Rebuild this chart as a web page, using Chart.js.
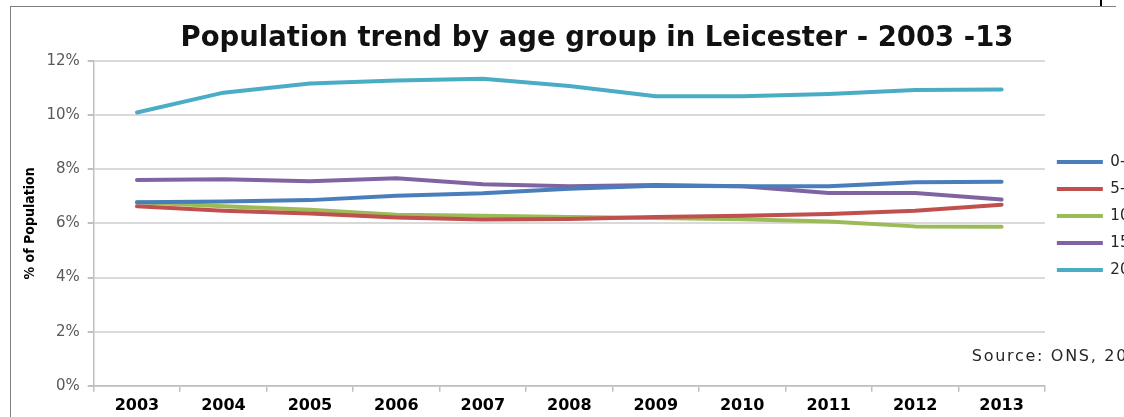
<!DOCTYPE html>
<html>
<head>
<meta charset="utf-8">
<script src="https://cdn.jsdelivr.net/npm/chart.js@4/dist/chart.umd.min.js"></script>
<style>
  html, body { margin: 0; padding: 0; background: #fff; overflow: hidden; width: 1124px; height: 417px; }
  #frame { position: absolute; left: 10px; top: 6px; width: 1105px; height: 420px; border-left: 1px solid #7f7f7f; border-top: 1px solid #7f7f7f; }
  #mark { position: absolute; left: 1100px; top: 0; width: 2px; height: 6px; background: #000; }
  #wrap { position: absolute; left: 11px; top: 7px; width: 1172px; height: 414px; }
</style>
</head>
<body>
<div id="frame"></div>
<div id="mark"></div>
<div id="wrap"><canvas id="myChart"></canvas></div>
<script>
var years = ['2003', '2004', '2005', '2006', '2007', '2008', '2009', '2010', '2011', '2012', '2013'];
var ageGroups = ['0-4', '5-9', '10-14', '15-19', '20-24'];
var age0to4 = [6.78, 6.81, 6.86, 7.02, 7.11, 7.28, 7.39, 7.37, 7.37, 7.52, 7.54];
var age5to9 = [6.63, 6.47, 6.37, 6.22, 6.14, 6.16, 6.24, 6.28, 6.35, 6.47, 6.69];
var age10to14 = [6.78, 6.63, 6.50, 6.32, 6.28, 6.24, 6.20, 6.15, 6.07, 5.89, 5.88];
var age15to19 = [7.60, 7.63, 7.56, 7.67, 7.45, 7.37, 7.42, 7.37, 7.12, 7.12, 6.88];
var age20to24 = [10.10, 10.83, 11.17, 11.28, 11.34, 11.08, 10.70, 10.70, 10.78, 10.93, 10.95];
var yTicks = [0, 2, 4, 6, 8, 10, 12];
var sourceNote = 'Source: ONS, 2014';

var seriesValues = [age0to4, age5to9, age10to14, age15to19, age20to24];
var colours = ['#4a7ebb', '#c0504d', '#9bbb59', '#8064a2', '#4bacc6'];

var datasets = ageGroups.map(function (name, i) {
    return {
        label: name,
        data: seriesValues[i],
        borderColor: colours[i],
        backgroundColor: colours[i],
        borderWidth: 4,
        borderCapStyle: 'round',
        borderJoinStyle: 'round',
        pointRadius: 0,
        pointHoverRadius: 0,
        pointStyle: 'line',
        tension: 0,
        fill: false
    };
});

// the source note sits inside the plot, bottom right
var sourcePlugin = {
    id: 'sourceNote',
    afterDraw: function (chart) {
        var c = chart.ctx;
        c.save();
        c.font = '16px "DejaVu Sans", sans-serif';
        c.letterSpacing = '1.7px';
        c.fillStyle = '#262626';
        c.textBaseline = 'middle';
        c.textAlign = 'left';
        c.fillText(sourceNote, chart.chartArea.right - 73, chart.chartArea.bottom - 29);
        c.restore();
    }
};

var ctx = document.getElementById('myChart').getContext('2d');
var myChart = new Chart(ctx, {
    type: 'line',
    data: {
        labels: years,
        datasets: datasets
    },
    plugins: [sourcePlugin],
    options: {
        responsive: true,
        maintainAspectRatio: false,
        animation: false,
        layout: {
            padding: { left: 0, right: 0, top: 0, bottom: 2 }
        },
        plugins: {
            title: {
                display: true,
                text: 'Population trend by age group in Leicester - 2003 -13',
                color: '#111',
                font: { family: '"DejaVu Sans", sans-serif', size: 27.5, weight: 'bold' },
                padding: { top: 15, bottom: 6 }
            },
            legend: {
                position: 'right',
                fullSize: true,
                title: {
                    display: true,
                    text: '',
                    font: { size: 1 },
                    padding: { top: 0, bottom: 5 }
                },
                labels: {
                    usePointStyle: true,
                    pointStyleWidth: 46,
                    boxHeight: 4,
                    padding: 12,
                    color: '#262626',
                    font: { family: '"DejaVu Sans", sans-serif', size: 15 },
                    generateLabels: function (chart) {
                        var items = Chart.defaults.plugins.legend.labels.generateLabels(chart);
                        items.forEach(function (it) { it.text = it.text + '    '; });
                        return items;
                    }
                }
            },
            tooltip: { enabled: false }
        },
        scales: {
            x: {
                offset: true,
                grid: {
                    offset: true,
                    drawOnChartArea: false,
                    drawTicks: true,
                    tickLength: 6,
                    tickColor: '#bfbfbf',
                    lineWidth: 1.5
                },
                border: { color: '#bfbfbf', width: 1.5 },
                ticks: {
                    color: '#000',
                    padding: 4,
                    maxRotation: 0,
                    font: { family: '"DejaVu Sans", sans-serif', size: 16, weight: 'bold' }
                }
            },
            y: {
                min: 0,
                max: 12,
                afterBuildTicks: function (axis) {
                    axis.ticks = yTicks.map(function (v) { return { value: v }; });
                },
                grid: {
                    color: '#d9d9d9',
                    lineWidth: 2,
                    tickLength: 6,
                    tickColor: '#bfbfbf'
                },
                border: { color: '#bfbfbf', width: 1.5 },
                ticks: {
                    color: '#595959',
                    padding: 8,
                    font: { family: '"DejaVu Sans", sans-serif', size: 15 },
                    callback: function (v) { return v + '%'; }
                },
                title: {
                    display: true,
                    text: '% of Population',
                    color: '#000',
                    padding: { top: 10.6, bottom: 0 },
                    font: { family: '"Liberation Sans Narrow", "DejaVu Sans Condensed", sans-serif', size: 14, weight: 'bold' }
                }
            }
        }
    }
});
</script>
</body>
</html>
